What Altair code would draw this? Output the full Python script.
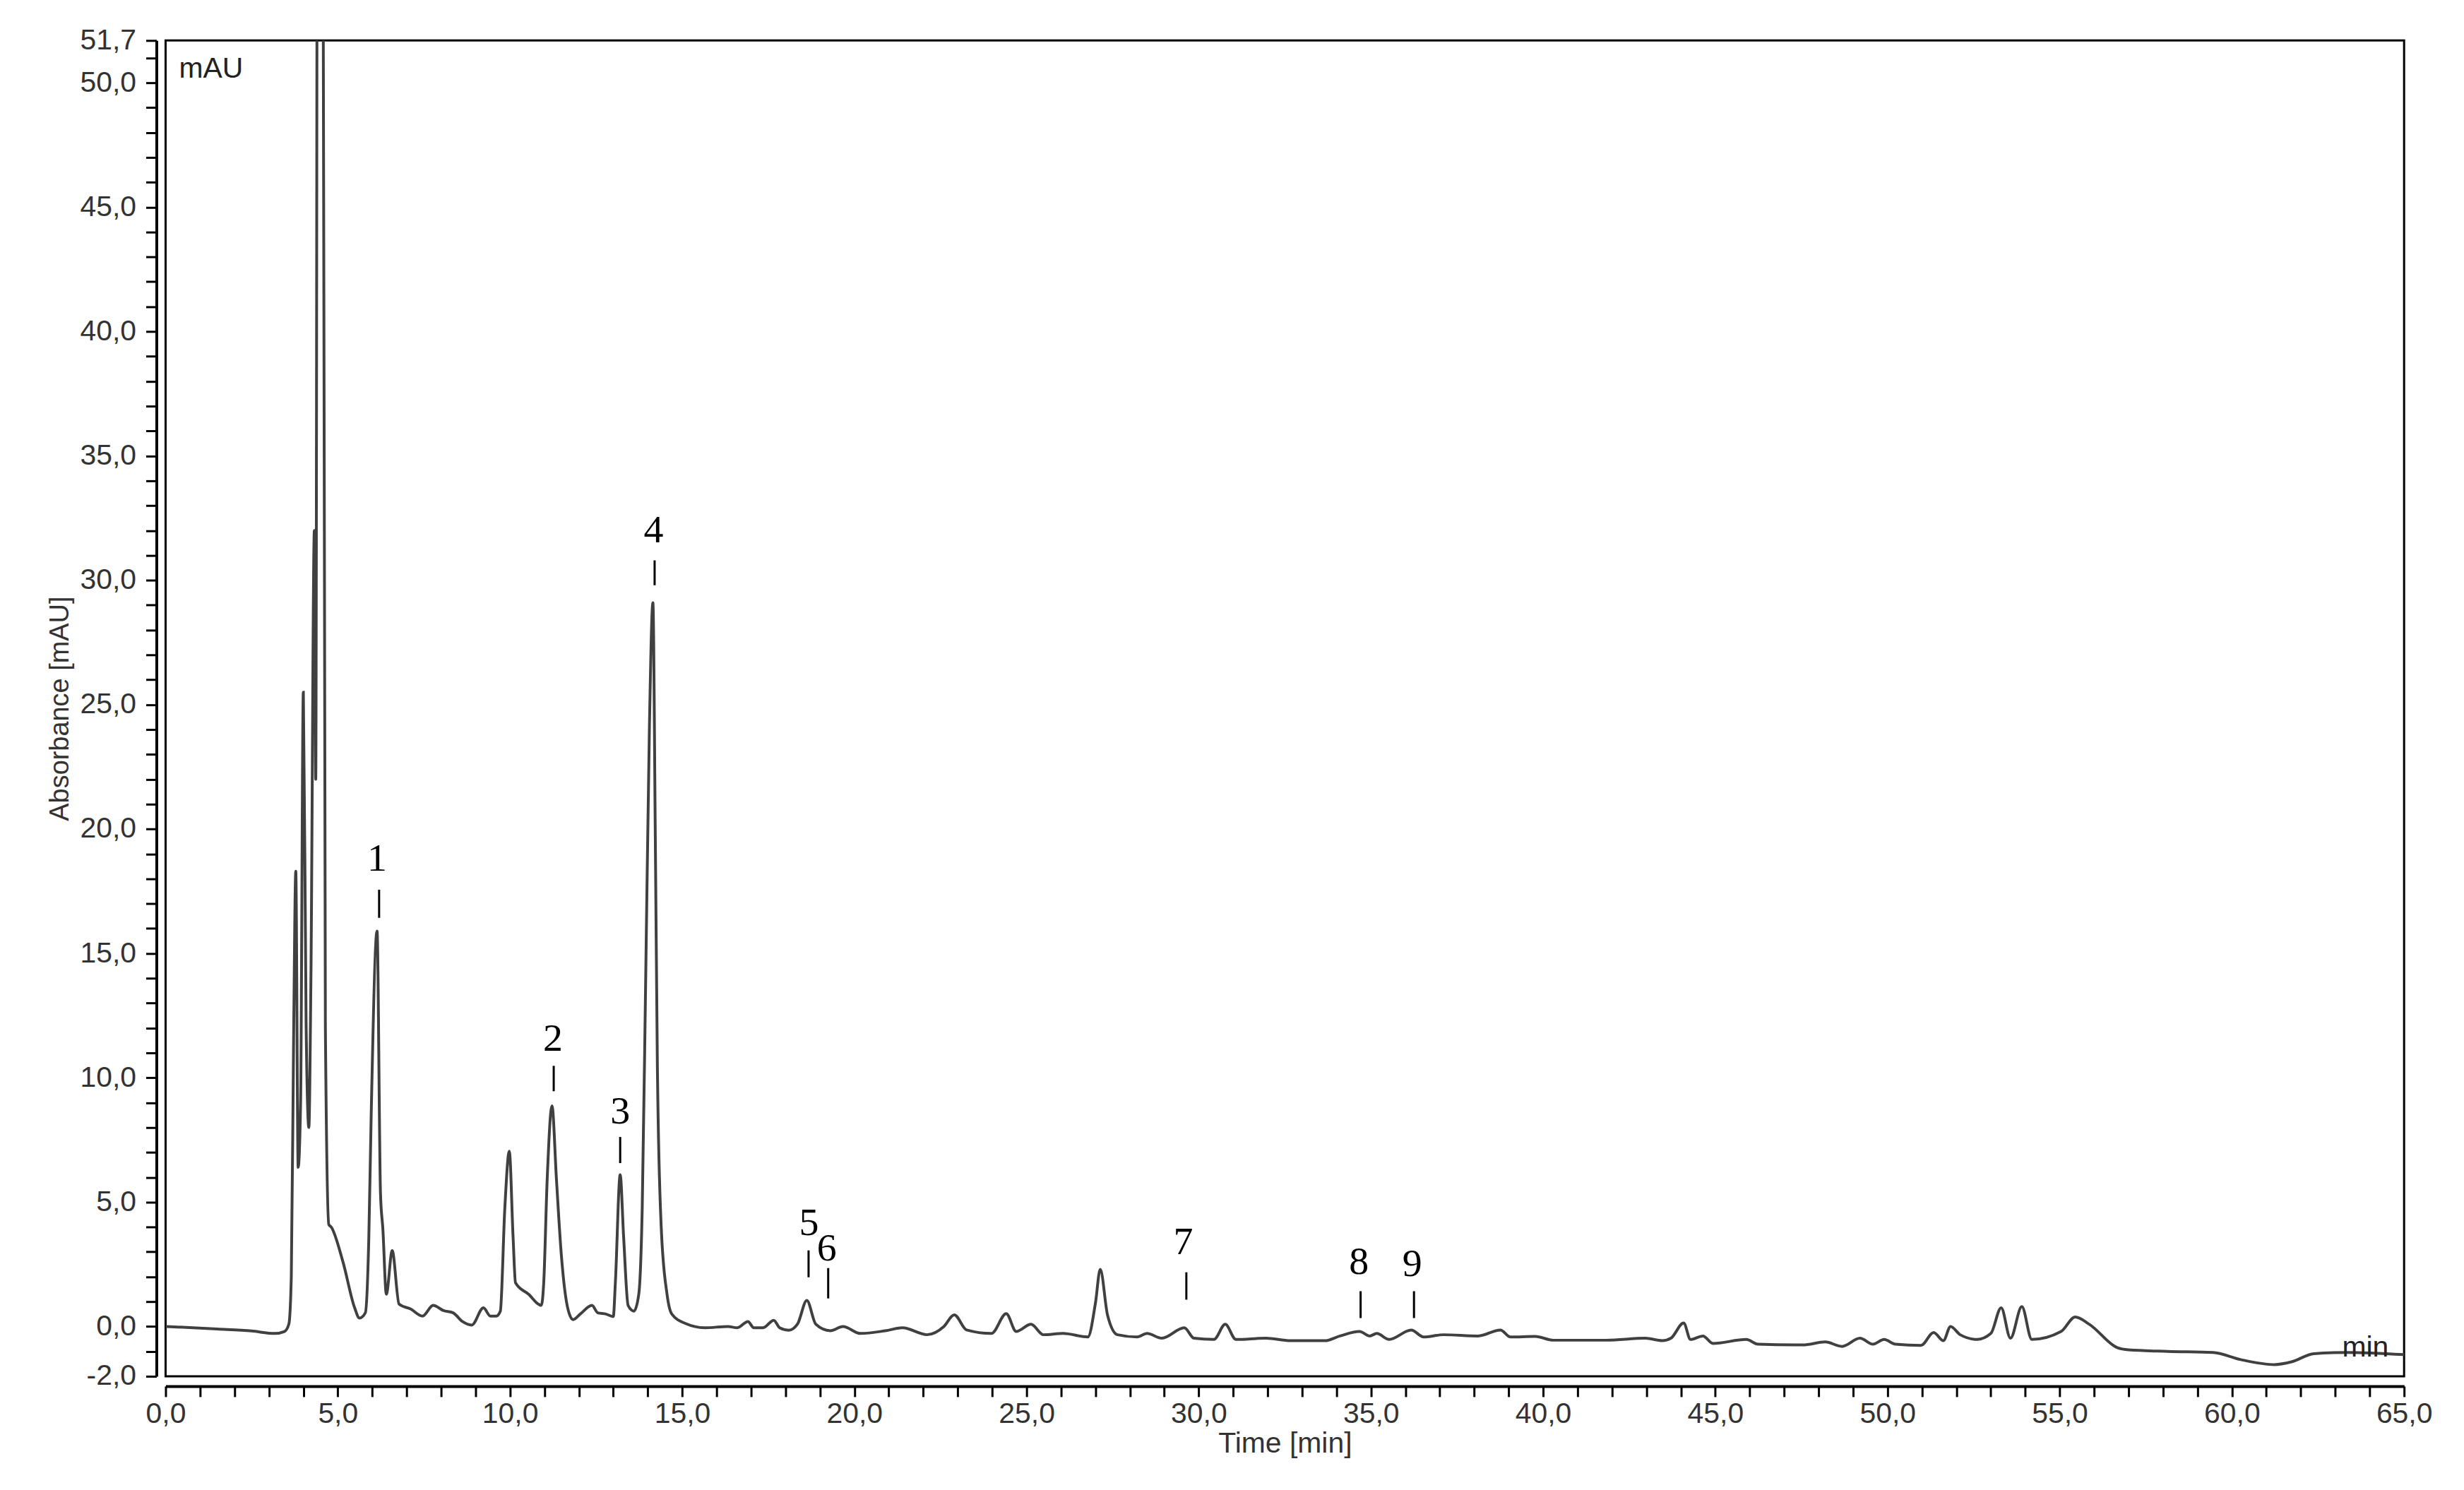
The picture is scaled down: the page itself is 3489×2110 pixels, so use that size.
import altair as alt
import pandas as pd

# ---- chromatogram trace (time in min, absorbance in mAU) ----
times = [0.0, 0.5, 1.5, 2.5, 3.17, 3.45, 3.58, 3.65, 3.72, 3.78, 3.85, 3.92, 4.0, 4.08, 4.16, 4.22,
         4.32, 4.36, 4.42, 4.55, 4.64, 4.74, 4.81, 5.15, 5.49, 5.63, 5.8, 5.9, 5.97, 6.14,
         6.24, 6.31, 6.41, 6.58, 6.78, 7.12, 7.46, 7.77, 8.07, 8.35, 8.62, 8.89, 9.23, 9.43,
         9.6, 9.72, 9.85, 9.98, 10.09, 10.16, 10.54, 10.91, 10.98, 11.08, 11.22, 11.35, 11.49,
         11.66, 11.83, 12.04, 12.38, 12.55, 12.79, 13.0, 13.06, 13.2, 13.3, 13.43, 13.6, 13.74,
         13.84, 13.94, 14.05, 14.15, 14.22, 14.28, 14.39, 14.56, 14.7, 15.1, 15.65, 16.33, 16.6,
         16.91, 17.08, 17.35, 17.66, 17.83, 18.1, 18.35, 18.62, 18.88, 19.3, 19.67, 20.18, 20.9,
         21.4, 22.11, 22.6, 22.9, 23.26, 23.98, 24.41, 24.7, 25.13, 25.49, 26.06, 26.78, 27.0,
         27.14, 27.35, 27.64, 28.21, 28.5, 28.93, 29.58, 29.86, 30.44, 30.77, 31.08, 31.95,
         32.66, 33.66, 34.1, 34.67, 34.96, 35.17, 35.53, 36.17, 36.53, 37.11, 38.11, 38.76,
         39.05, 39.77, 40.3, 41.83, 42.97, 43.46, 43.71, 44.08, 44.28, 44.64, 44.93, 45.9, 46.24,
         47.54, 48.19, 48.68, 49.2, 49.58, 49.9, 50.23, 50.97, 51.34, 51.62, 51.83, 52.11, 52.6,
         53.0, 53.3, 53.57, 53.9, 54.19, 55.04, 55.45, 55.86, 56.67, 57.0, 58.14, 59.45, 60.26,
         61.24, 61.73, 62.38, 63.36, 65.0]
absorbance = [0.0, -0.03, -0.1, -0.18, -0.28, -0.2, 0.1, 2.0, 12.0, 18.3, 6.4, 9.0, 25.5, 12.2, 8.0, 14.0,
              32.0, 22.0, 70.0, 70.0, 12.0, 4.1, 4.0, 2.6, 0.75, 0.34, 0.55, 3.5, 8.5, 15.9,
              5.35, 3.9, 1.3, 3.05, 0.9, 0.7, 0.42, 0.85, 0.64, 0.55, 0.2, 0.06, 0.75, 0.42,
              0.42, 0.62, 4.75, 7.05, 3.6, 1.76, 1.3, 0.85, 1.76, 5.9, 8.87, 5.9, 2.9,
              0.85, 0.28, 0.5, 0.85, 0.55, 0.5, 0.4, 1.76, 6.1, 3.6, 0.85, 0.62, 1.3,
              4.75, 13.9, 24.2, 29.1, 19.7, 10.5, 4.05, 1.3, 0.5, 0.12, -0.05, 0.0, -0.05,
              0.2, -0.05, -0.05, 0.25, -0.05, -0.15, 0.1, 1.05, 0.09, -0.17, 0.0, -0.28, -0.17,
              -0.05, -0.33, 0.0, 0.47, -0.14, -0.28, 0.52, -0.2, 0.09, -0.33, -0.28, -0.42, 0.94,
              2.3, 0.47, -0.33, -0.42, -0.28, -0.47, -0.05, -0.47, -0.52, 0.09, -0.52, -0.47,
              -0.57, -0.57, -0.38, -0.2, -0.38, -0.28, -0.52, -0.14, -0.42, -0.33, -0.38, -0.14,
              -0.42, -0.4, -0.55, -0.55, -0.47, -0.57, -0.47, 0.14, -0.52, -0.38, -0.68, -0.52, -0.71,
              -0.74, -0.62, -0.8, -0.47, -0.71, -0.52, -0.71, -0.76, -0.24, -0.57, 0.0, -0.33, -0.52,
              -0.28, 0.75, -0.47, 0.8, -0.52, -0.2, 0.38, 0.09, -0.85, -0.94, -1.0, -1.04, -1.33,
              -1.53, -1.42, -1.09, -1.04, -1.13]

# ---- numbered peak annotations ----
peak_labels = ["1", "2", "3", "4", "5", "6", "7", "8", "9"]
peak_label_t = [6.14, 11.25, 13.2, 14.17, 18.68, 19.2, 29.55, 34.65, 36.2]
peak_label_y = [18.8, 11.56, 8.64, 32.0, 4.16, 3.14, 3.4, 2.6, 2.52]
peak_tick_t = [6.2, 11.27, 13.2, 14.2, 18.67, 19.24, 29.64, 34.7, 36.25]
peak_tick_top = [17.56, 10.48, 7.62, 30.8, 3.06, 2.35, 2.18, 1.42, 1.42]
peak_tick_bot = [16.43, 9.46, 6.57, 29.8, 1.98, 1.13, 1.08, 0.34, 0.34]

# ---- axis ticks ----
x_tick_values = list(range(0, 66))
y_tick_values = list(range(-2, 52)) + [51.7]

# ---- unit annotations inside the plot ----
unit_texts = ["mAU", "min"]
unit_t = [0.39, 63.2]
unit_a = [50.2, -1.22]

df = pd.DataFrame({"t": times, "a": absorbance})
lab_df = pd.DataFrame({"lab": peak_labels, "t": peak_label_t, "y": peak_label_y})
tick_df = pd.DataFrame({"t": peak_tick_t, "top": peak_tick_top, "bot": peak_tick_bot})
unit_df = pd.DataFrame({"txt": unit_texts, "t": unit_t, "a": unit_a})

SANS = "Liberation Sans, Arial, sans-serif"
SERIF = "Liberation Serif, Times New Roman, serif"

x_scale = alt.Scale(domain=[0, 65], nice=False, zero=False)
y_scale = alt.Scale(domain=[-2, 51.7], nice=False, zero=False)

x_axis = alt.Axis(
    values=x_tick_values,
    labelExpr="datum.value % 5 == 0 ? replace(format(datum.value, '.1f'), '.', ',') : ''",
    labelOverlap=False, labelFlush=False,
    tickSize=15, tickWidth=3, tickColor="black",
    domainWidth=4, domainColor="black",
    labelFont=SANS, labelFontSize=41, labelColor="#333333", labelPadding=5,
    offset=14, grid=False,
    title="Time [min]", titleFont=SANS, titleFontSize=41, titleFontWeight="normal",
    titleColor="#333333", titlePadding=2,
)
y_axis = alt.Axis(
    values=y_tick_values,
    labelExpr="(datum.value % 5 == 0 || datum.value == 51.7 || datum.value == -2) ? "
              "replace(replace(format(datum.value, '.1f'), '.', ','), '\u2212', '-') : ''",
    labelOverlap=False, labelFlush=False,
    tickSize=15, tickWidth=3, tickColor="black",
    domainWidth=4, domainColor="black",
    labelFont=SANS, labelFontSize=41, labelColor="#333333", labelPadding=14,
    offset=13, grid=False,
    title="Absorbance [mAU]", titleFont=SANS, titleFontSize=38, titleFontWeight="normal",
    titleColor="#333333", titlePadding=8,
)

line = alt.Chart(df).mark_line(
    clip=True, color="#404040", strokeWidth=4, interpolate="monotone"
).encode(
    x=alt.X("t:Q", scale=x_scale, axis=x_axis),
    y=alt.Y("a:Q", scale=y_scale, axis=y_axis),
)

labels = alt.Chart(lab_df).mark_text(
    font=SERIF, fontSize=56, color="black", align="center", baseline="middle"
).encode(
    x=alt.X("t:Q", scale=x_scale, axis=x_axis),
    y=alt.Y("y:Q", scale=y_scale, axis=y_axis),
    text="lab:N",
)

ticks = alt.Chart(tick_df).mark_rule(color="black", strokeWidth=3).encode(
    x=alt.X("t:Q", scale=x_scale, axis=x_axis),
    y=alt.Y("top:Q", scale=y_scale, axis=y_axis),
    y2="bot:Q",
)

units = alt.Chart(unit_df).mark_text(
    font=SANS, fontSize=41, color="#222222", align="left", baseline="alphabetic"
).encode(
    x=alt.X("t:Q", scale=x_scale, axis=x_axis),
    y=alt.Y("a:Q", scale=y_scale, axis=y_axis),
    text="txt:N",
)

chart = alt.layer(line, ticks, labels, units).properties(
    width=3177, height=1896,
    autosize=alt.AutoSizeParams(type="none"),
    padding={"left": 227, "top": 47, "right": 77, "bottom": 159},
    background="white",
).configure_view(
    stroke="black", strokeWidth=3
)

chart.save("out.html", embed_options={"renderer": "svg", "actions": False})
